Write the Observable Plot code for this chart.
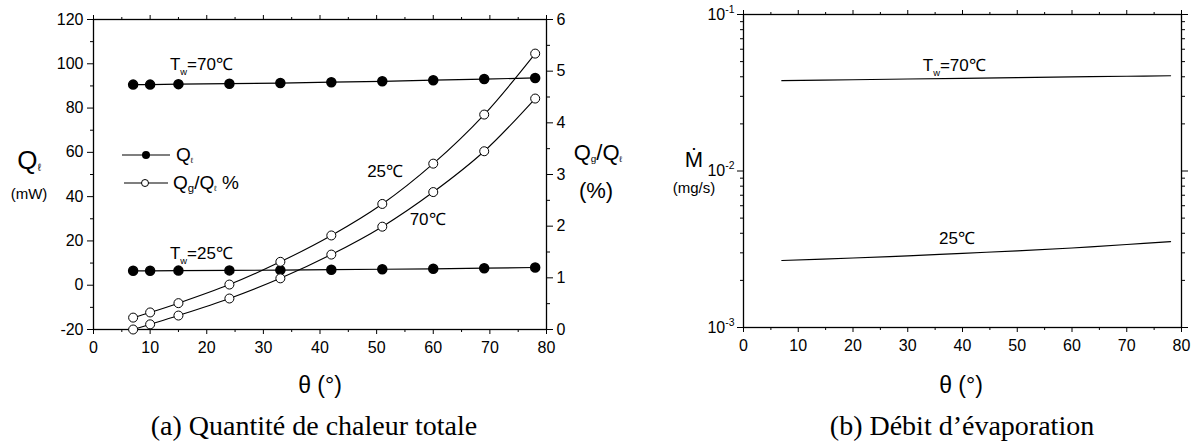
<!DOCTYPE html>
<html><head><meta charset="utf-8">
<script src="https://cdn.jsdelivr.net/npm/d3@7"></script>
<script src="https://cdn.jsdelivr.net/npm/@observablehq/plot@0.6"></script>
<style>
body{margin:0;background:#fff;}
#wrap{position:relative;width:1199px;height:445px;overflow:hidden;font-family:"Liberation Sans",Arial,sans-serif;color:#000;}
.abs{position:absolute;white-space:nowrap;line-height:1;}
.c{transform:translate(-50%,-50%);}
.cap{font-family:"Liberation Serif","Times New Roman",serif;font-size:28px;}
.svgpos{position:absolute;top:0;}
sub{font-size:45%;vertical-align:-0.25em;}
</style></head><body><div id="wrap"></div>
<script>
// ---------- data ----------
const theta = [7, 10, 15, 24, 33, 42, 51, 60, 69, 78];
const qL70 = [90.6, 90.6, 90.8, 91.0, 91.3, 91.7, 92.1, 92.6, 93.1, 93.6];
const qL25 = [6.5, 6.5, 6.6, 6.7, 6.8, 7.0, 7.2, 7.4, 7.7, 8.0];
const ratio25 = [0.23, 0.33, 0.51, 0.87, 1.31, 1.82, 2.43, 3.21, 4.16, 5.34];
const ratio70 = [0.0, 0.10, 0.27, 0.60, 0.99, 1.45, 1.99, 2.66, 3.45, 4.47];
const thetaM = [7, 20, 30, 40, 50, 60, 70, 78];
const mdot70 = [0.0378, 0.0383, 0.0387, 0.0391, 0.0395, 0.0399, 0.0403, 0.0406];
const mdot25 = [0.00268, 0.00278, 0.00287, 0.00298, 0.00309, 0.00322, 0.00339, 0.00354];
const xTicks = [0, 10, 20, 30, 40, 50, 60, 70, 80];
const qTicks = [-20, 0, 20, 40, 60, 80, 100, 120];
const ratioTicks = [0, 1, 2, 3, 4, 5, 6];
const logTicks = [1e-3, 1e-2, 1e-1];
const logLabels = ["10^{-3}", "10^{-2}", "10^{-1}"];

// ---------- helpers ----------
const NS = "http://www.w3.org/2000/svg";
const qRange = [-20, 120], rRange = [0, 6];
const toQ = v => qRange[0] + (v - rRange[0]) * (qRange[1] - qRange[0]) / (rRange[1] - rRange[0]);
const fromQ = q => rRange[0] + (q - qRange[0]) * (rRange[1] - rRange[0]) / (qRange[1] - qRange[0]);
const rows = (xs, ys) => xs.map((x, i) => ({x, y: ys[i]}));
const minors = (ticks) => ticks.slice(0, -1).map((t, i) => (t + ticks[i + 1]) / 2);

function richText(root) {
  root.querySelectorAll("text").forEach(el => {
    const s = el.textContent;
    if (!/[_^]\{/.test(s)) return;
    const fs = parseFloat(getComputedStyle(el).fontSize) || 15;
    el.textContent = "";
    const re = /([_^])\{([^}]*)\}/g;
    let last = 0, m, shift = 0;
    const add = (txt, dy, small) => {
      if (!txt) return;
      const t = document.createElementNS(NS, "tspan");
      t.textContent = txt;
      if (dy) t.setAttribute("dy", dy);
      if (small) t.setAttribute("font-size", small);
      el.appendChild(t);
    };
    while ((m = re.exec(s))) {
      add(s.slice(last, m.index), -shift); shift = 0;
      const d = m[1] === "_" ? 0.3 * fs : -0.42 * fs;
      add(m[2], d, m[1] === "_" ? "55%" : "65%"); shift = d;
      last = re.lastIndex;
    }
    const rest = s.slice(last);
    if (rest) add(rest, -shift);
  });
}

const baseStyle = {fontFamily: "'Liberation Sans', Arial, sans-serif", fontSize: "16px", color: "#000", background: "transparent", overflow: "visible"};
const wrap = document.getElementById("wrap");

// ---------- panel (a) ----------
const plotA = Plot.plot({
  width: 600, height: 360, marginLeft: 93, marginRight: 54, marginTop: 19, marginBottom: 31,
  style: baseStyle,
  x: {domain: [0, 80], label: null},
  y: {domain: qRange, label: null},
  marks: [
    Plot.axisX({anchor: "bottom", ticks: xTicks, tickSize: 5, tickPadding: 7, tickFormat: d => String(d), label: null}),
    Plot.axisX({anchor: "bottom", ticks: minors(xTicks), tickSize: 3, tickFormat: () => "", label: null}),
    Plot.axisX({anchor: "top", ticks: xTicks, tickSize: 5, tickFormat: () => "", label: null}),
    Plot.axisX({anchor: "top", ticks: minors(xTicks), tickSize: 3, tickFormat: () => "", label: null}),
    Plot.axisY({anchor: "left", ticks: qTicks, tickSize: 6, tickPadding: 4, tickFormat: d => String(d), label: null}),
    Plot.axisY({anchor: "left", ticks: minors(qTicks), tickSize: 3, tickFormat: () => "", label: null}),
    Plot.axisY({anchor: "right", ticks: ratioTicks.map(toQ), tickSize: 6, tickPadding: 4, tickFormat: d => String(Math.round(fromQ(d))), label: null}),
    Plot.axisY({anchor: "right", ticks: minors(ratioTicks).map(toQ), tickSize: 3, tickFormat: () => "", label: null}),
    Plot.frame({stroke: "#000", strokeWidth: 1.3}),
    Plot.line(rows(theta, qL70), {x: "x", y: "y", stroke: "#000", strokeWidth: 1.2}),
    Plot.line(rows(theta, qL25), {x: "x", y: "y", stroke: "#000", strokeWidth: 1.2}),
    Plot.dot(rows(theta, qL70), {x: "x", y: "y", r: 4.5, fill: "#000", stroke: "#000"}),
    Plot.dot(rows(theta, qL25), {x: "x", y: "y", r: 4.5, fill: "#000", stroke: "#000"}),
    Plot.line(rows(theta, ratio25.map(toQ)), {x: "x", y: "y", stroke: "#000", strokeWidth: 1.1, curve: "catmull-rom"}),
    Plot.line(rows(theta, ratio70.map(toQ)), {x: "x", y: "y", stroke: "#000", strokeWidth: 1.1, curve: "catmull-rom"}),
    Plot.dot(rows(theta, ratio25.map(toQ)), {x: "x", y: "y", r: 4.5, fill: "#fff", stroke: "#000", strokeWidth: 1}),
    Plot.dot(rows(theta, ratio70.map(toQ)), {x: "x", y: "y", r: 4.5, fill: "#fff", stroke: "#000", strokeWidth: 1}),
    Plot.text([{x: 13.5, y: 99.5, t: "T_{w}=70℃"}, {x: 13.5, y: 14.5, t: "T_{w}=25℃"}],
      {x: "x", y: "y", text: "t", textAnchor: "start", fontSize: 17}),
    Plot.text([{x: 51.5, y: 51.5, t: "25℃"}, {x: 59, y: 29.5, t: "70℃"}],
      {x: "x", y: "y", text: "t", textAnchor: "middle", fontSize: 17})
  ]
});
plotA.classList.add("svgpos");
plotA.style.left = "0px";
wrap.appendChild(plotA);
richText(plotA);

// ---------- panel (b) ----------
const logMinor = [];
for (const d of [1e-3, 1e-2]) for (let k = 2; k <= 9; k++) logMinor.push(k * d);
const plotB = Plot.plot({
  width: 599, height: 360, marginLeft: 143, marginRight: 18, marginTop: 14, marginBottom: 33,
  style: baseStyle,
  x: {domain: [0, 80], label: null},
  y: {type: "log", domain: [1e-3, 1e-1], label: null},
  marks: [
    Plot.axisX({anchor: "bottom", ticks: xTicks, tickSize: 5, tickPadding: 7, tickFormat: d => String(d), label: null}),
    Plot.axisX({anchor: "bottom", ticks: minors(xTicks), tickSize: 3, tickFormat: () => "", label: null}),
    Plot.axisX({anchor: "top", ticks: xTicks, tickSize: 5, tickFormat: () => "", label: null}),
    Plot.axisX({anchor: "top", ticks: minors(xTicks), tickSize: 3, tickFormat: () => "", label: null}),
    Plot.axisY({anchor: "left", ticks: logTicks, tickSize: 6, tickPadding: 3, tickFormat: d => logLabels[logTicks.indexOf(d)], label: null}),
    Plot.axisY({anchor: "left", ticks: logMinor, tickSize: 3, tickFormat: () => "", label: null}),
    Plot.axisY({anchor: "right", ticks: logTicks, tickSize: 6, tickFormat: () => "", label: null}),
    Plot.axisY({anchor: "right", ticks: logMinor, tickSize: 3, tickFormat: () => "", label: null}),
    Plot.frame({stroke: "#000", strokeWidth: 1.3}),
    Plot.line(rows(thetaM, mdot70), {x: "x", y: "y", stroke: "#000", strokeWidth: 1.2, curve: "catmull-rom"}),
    Plot.line(rows(thetaM, mdot25), {x: "x", y: "y", stroke: "#000", strokeWidth: 1.2, curve: "catmull-rom"}),
    Plot.text([{x: 38.5, y: 0.0473, t: "T_{w}=70℃"}, {x: 39, y: 0.00371, t: "25℃"}],
      {x: "x", y: "y", text: "t", textAnchor: "middle", fontSize: 17})
  ]
});
plotB.classList.add("svgpos");
plotB.style.left = "600px";
wrap.appendChild(plotB);
richText(plotB);

// ---------- titles, legend, captions ----------
const html = `
<div class="abs c" style="left:29px;top:160px;font-size:26px;">Q<sub style="font-size:40%">ℓ</sub></div>
<div class="abs c" style="left:29px;top:193px;font-size:15px;">(mW)</div>
<div class="abs c" style="left:598px;top:153px;font-size:22px;">Q<sub>g</sub>/Q<sub style="font-size:38%">ℓ</sub></div>
<div class="abs c" style="left:596px;top:191px;font-size:22px;">(%)</div>
<div class="abs c" style="left:694px;top:160px;font-size:22px;">Ṁ</div>
<div class="abs c" style="left:694px;top:187px;font-size:15px;">(mg/s)</div>
<div class="abs c" style="left:320px;top:385px;font-size:23px;">θ (°)</div>
<div class="abs c" style="left:961px;top:385px;font-size:23px;">θ (°)</div>
<div class="abs c cap" style="left:314px;top:426px;">(a) Quantité de chaleur totale</div>
<div class="abs c cap" style="left:962px;top:426px;">(b) Débit d’évaporation</div>
<svg class="abs" style="left:115px;top:140px;overflow:visible" width="60" height="60">
  <line x1="7" y1="15" x2="55" y2="15" stroke="#000" stroke-width="1.2"/>
  <circle cx="31" cy="15" r="4" fill="#000"/>
  <line x1="9" y1="43" x2="53" y2="43" stroke="#000" stroke-width="1.2"/>
  <circle cx="30" cy="43" r="3.5" fill="#fff" stroke="#000"/>
</svg>
<div class="abs" style="left:176px;top:145px;font-size:19px;">Q<sub style="font-size:40%">ℓ</sub></div>
<div class="abs" style="left:173px;top:173px;font-size:19px;">Q<sub style="font-size:60%">g</sub>/Q<sub style="font-size:40%">ℓ</sub> %</div>
`;
wrap.insertAdjacentHTML("beforeend", html);
</script></body></html>
